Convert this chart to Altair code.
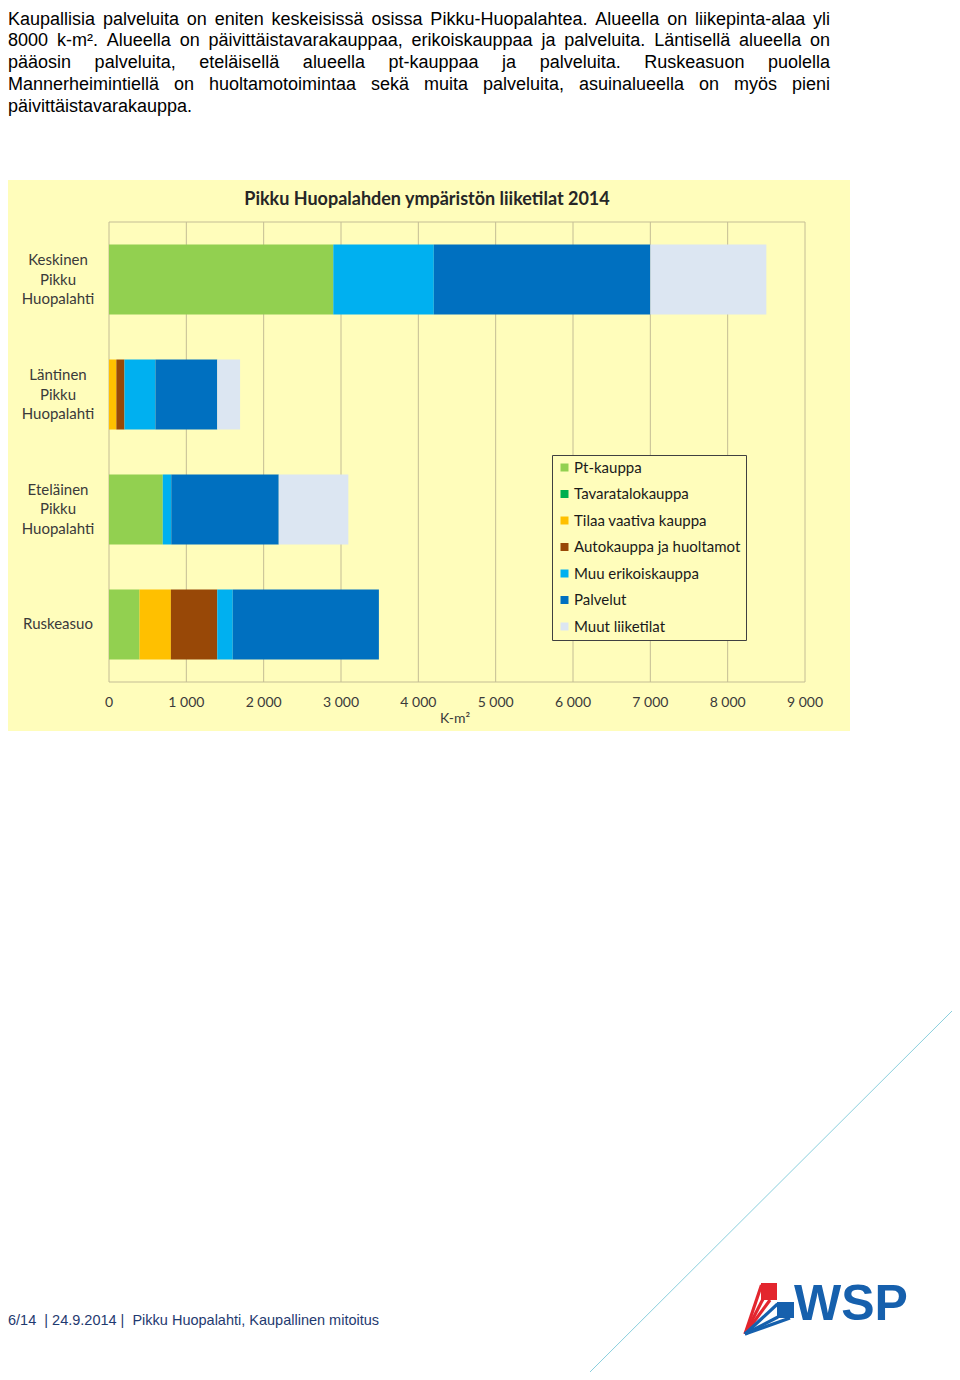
import altair as alt
import pandas as pd

# ---------------- data ----------------
areas = ["Keskinen Pikku Huopalahti", "Läntinen Pikku Huopalahti",
         "Eteläinen Pikku Huopalahti", "Ruskeasuo"]
area_labels = ["Keskinen\nPikku\nHuopalahti", "Läntinen\nPikku\nHuopalahti",
               "Eteläinen\nPikku\nHuopalahti", "Ruskeasuo"]
categories = ["Pt-kauppa", "Tavaratalokauppa", "Tilaa vaativa kauppa",
              "Autokauppa ja huoltamot", "Muu erikoiskauppa", "Palvelut",
              "Muut liiketilat"]
colors = ["#92D050", "#00B050", "#FFC000", "#984807", "#00B0F0", "#0070C0", "#DCE6F2"]

keskinen = [2900, 0, 0, 0, 1300, 2800, 1500]
lantinen = [0, 0, 95, 105, 400, 800, 295]
etelainen = [695, 0, 0, 0, 110, 1390, 900]
ruskeasuo = [395, 0, 405, 600, 200, 1890, 0]
series = [keskinen, lantinen, etelainen, ruskeasuo]

tick_values = [0, 1000, 2000, 3000, 4000, 5000, 6000, 7000, 8000, 9000]
tick_labels = ["0", "1 000", "2 000", "3 000", "4 000", "5 000", "6 000",
               "7 000", "8 000", "9 000"]

chart_title = "Pikku Huopalahden ympäristön liiketilat 2014"
axis_title = "K-m²"

para_lines = [
    "Kaupallisia palveluita on eniten keskeisissä osissa Pikku-Huopalahtea. Alueella on liikepinta-alaa yli",
    "8000 k-m². Alueella on päivittäistavarakauppaa, erikoiskauppaa ja palveluita. Läntisellä alueella on",
    "pääosin palveluita, eteläisellä alueella pt-kauppaa ja palveluita. Ruskeasuon puolella",
    "Mannerheimintiellä on huoltamotoimintaa sekä muita palveluita, asuinalueella on myös pieni",
    "päivittäistavarakauppa.",
]
footer = "6/14\u00a0\u00a0| 24.9.2014 |\u00a0\u00a0Pikku Huopalahti, Kaupallinen mitoitus"

# ---------------- tables ----------------
rows = []
for a, vals in zip(areas, series):
    for i, (c, v) in enumerate(zip(categories, vals)):
        if v > 0:
            rows.append({"area": a, "cat": c, "value": v, "idx": i})
bar_df = pd.DataFrame(rows)
tick_df = pd.DataFrame({"v": tick_values, "label": tick_labels})
lab_df = pd.DataFrame({"area": areas, "label": area_labels})
lab_multi = lab_df[lab_df["label"].str.contains("\n")]
lab_single = lab_df[~lab_df["label"].str.contains("\n")]
box_df = pd.DataFrame({"a": [tick_values[0]], "b": [tick_values[-1]]})

# Arial / Liberation Sans advance widths (1/1000 em) for justification
AW = {' ': 278, '.': 278, ',': 278, '-': 333, '²': 333, '|': 260, '/': 278}
for ch in 'abdeghnopquäöå0123456789':
    AW[ch] = 556
AW.update({'c': 500, 'f': 278, 'i': 222, 'j': 222, 'k': 500, 'l': 222, 'm': 833,
           'r': 333, 's': 500, 't': 278, 'v': 500, 'w': 722, 'x': 500, 'y': 500,
           'z': 500, 'A': 667, 'K': 667, 'P': 667, 'H': 722, 'L': 556, 'M': 833,
           'R': 722})
FS = 18


def tw(s):
    return sum(AW.get(ch, 556) for ch in s) / 1000 * FS


LEFT, RIGHT, TOP, LH = 0, 822, 16.5, 21.8
words_out = []  # (x, y, text, align)
for li, line in enumerate(para_lines):
    y = TOP + li * LH
    words = line.split(" ")
    if li < len(para_lines) - 1:
        total = sum(tw(w) for w in words)
        gap = (RIGHT - LEFT - total) / (len(words) - 1)
        x = LEFT
        for wi, w in enumerate(words):
            if wi == len(words) - 1:
                words_out.append((RIGHT, y, w, "right"))
            else:
                words_out.append((x, y, w, "left"))
            x += tw(w) + gap
    else:
        words_out.append((LEFT, y, line, "left"))

# ---------------- scales ----------------
xs = alt.Scale(domain=[0, 9000], range=[101, 797])
ys = alt.Scale(domain=areas, range=[214, 674], paddingInner=0.391, paddingOuter=0.196)
GRID = "#C4BD95"
PANEL = "#FFFDBB"
LABEL = "#3A3A3A"


def one():
    return alt.Data(values=[{"k": 1}])


panel = alt.Chart(one()).mark_rect(color=PANEL).encode(
    x=alt.value(0), x2=alt.value(842), y=alt.value(172), y2=alt.value(723))

grid = alt.Chart(tick_df).mark_rule(color=GRID, strokeWidth=1).encode(
    x=alt.X("v:Q", scale=xs, axis=None), y=alt.value(214), y2=alt.value(674))

box_top = alt.Chart(box_df).mark_rule(color=GRID, strokeWidth=1).encode(
    x=alt.X("a:Q", scale=xs, axis=None), x2="b:Q", y=alt.value(214))
box_bot = alt.Chart(box_df).mark_rule(color=GRID, strokeWidth=1).encode(
    x=alt.X("a:Q", scale=xs, axis=None), x2="b:Q", y=alt.value(674))

bars = alt.Chart(bar_df).mark_bar().encode(
    x=alt.X("value:Q", stack="zero", scale=xs, axis=None),
    y=alt.Y("area:N", scale=ys, axis=None, sort=areas),
    color=alt.Color("cat:N", scale=alt.Scale(domain=categories, range=colors),
                    legend=alt.Legend(orient="none", legendX=544, legendY=447,
                                      title=None, padding=5, strokeColor="#404040",
                                      fillColor=PANEL, symbolType="square",
                                      symbolSize=64, symbolStrokeWidth=0,
                                      labelFont="Lato", labelFontSize=15,
                                      labelColor="#1a1a1a", rowPadding=10.5,
                                      labelOffset=2, labelLimit=400)),
    order=alt.Order("idx:Q"),
)

ticks = alt.Chart(tick_df).mark_text(font="Lato", fontSize=14, color=LABEL,
                                     baseline="middle", align="center").encode(
    x=alt.X("v:Q", scale=xs, axis=None), y=alt.value(695), text="label:N")

cat_multi = alt.Chart(lab_multi).mark_text(font="Lato", fontSize=15, color=LABEL,
                                           baseline="middle", align="center",
                                           lineBreak="\n", lineHeight=19.5, dy=-19.5).encode(
    x=alt.value(50), y=alt.Y("area:N", scale=ys, axis=None, sort=areas), text="label:N")
cat_single = alt.Chart(lab_single).mark_text(font="Lato", fontSize=15, color=LABEL,
                                             baseline="middle", align="center").encode(
    x=alt.value(50), y=alt.Y("area:N", scale=ys, axis=None, sort=areas), text="label:N")

title = alt.Chart(one()).mark_text(text=chart_title, font="Lato", fontSize=18,
                                   fontWeight="bold", color="#262626",
                                   baseline="middle", align="center").encode(
    x=alt.value(419), y=alt.value(192))

xtitle = alt.Chart(one()).mark_text(text=axis_title, font="Lato", fontSize=14,
                                    color=LABEL, baseline="middle", align="center").encode(
    x=alt.value(447), y=alt.value(711))

para_layers = []
for (wx, wy, wt, wa) in words_out:
    para_layers.append(alt.Chart(one()).mark_text(
        text=wt, font="Liberation Sans", fontSize=FS, color="#000000",
        baseline="alphabetic", align=wa).encode(x=alt.value(wx), y=alt.value(wy)))

foot = alt.Chart(one()).mark_text(text=footer, font="Liberation Sans", fontSize=14.5,
                                  color="#1F3A70", baseline="middle", align="left").encode(
    x=alt.value(0), y=alt.value(1313))

diag = alt.Chart(one()).mark_rule(color="#8ACFDD", strokeWidth=1).encode(
    x=alt.value(944), y=alt.value(1003), x2=alt.value(582), y2=alt.value(1364))

# WSP logo (decoration)
logo_layers = []
logo_layers.append(alt.Chart(one()).mark_rect(color="#E3262E").encode(
    x=alt.value(753), x2=alt.value(769), y=alt.value(1275), y2=alt.value(1292)))
logo_layers.append(alt.Chart(one()).mark_rect(color="#1660AD").encode(
    x=alt.value(769), x2=alt.value(786), y=alt.value(1294), y2=alt.value(1310)))
apex = (737, 1326)
for (ex, ey) in [(753.5, 1277), (755, 1291), (762, 1292)]:
    logo_layers.append(alt.Chart(one()).mark_rule(color="#E3262E", strokeWidth=3.2).encode(
        x=alt.value(apex[0]), y=alt.value(apex[1]), x2=alt.value(ex), y2=alt.value(ey)))
for (ex, ey) in [(769.5, 1296), (770, 1309), (782, 1310)]:
    logo_layers.append(alt.Chart(one()).mark_rule(color="#1660AD", strokeWidth=3.2).encode(
        x=alt.value(apex[0]), y=alt.value(apex[1]), x2=alt.value(ex), y2=alt.value(ey)))
logo_layers.append(alt.Chart(one()).mark_text(text="WSP", font="Liberation Sans", fontSize=50,
                                              fontWeight="bold", color="#1660AD",
                                              baseline="alphabetic", align="left").encode(
    x=alt.value(786), y=alt.value(1312)))

chart = alt.layer(panel, grid, box_top, box_bot, bars, ticks, cat_multi, cat_single,
                  title, xtitle, *para_layers, foot, diag, *logo_layers).properties(
    width=944, height=1364, padding=0,
    autosize=alt.AutoSizeParams(type="none"),
).configure_view(stroke=None)

chart.save("out.html", embed_options={"renderer": "svg", "actions": False})
